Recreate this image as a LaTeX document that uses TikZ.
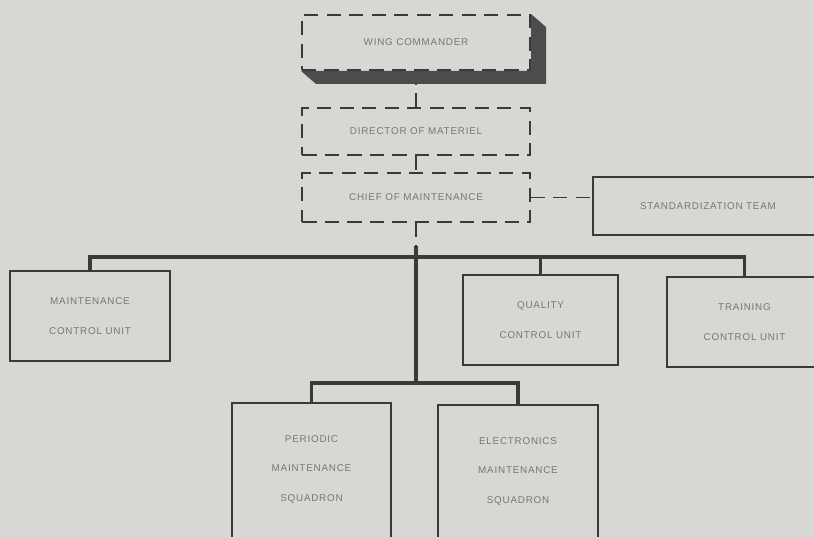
\documentclass[tikz,border=0pt]{standalone}
\usepackage{fontspec}
\setmainfont{Liberation Sans}
\newfontfamily\lettering[LetterSpace=8]{Liberation Sans}
\usetikzlibrary{positioning}
\definecolor{paper}{HTML}{D7D8D3}
\definecolor{ink}{HTML}{3A3A3A}
\definecolor{pencil}{HTML}{767676}
\definecolor{darkface}{HTML}{4C4C4C}
\tikzset{
  %define style for boxes
  unit/.style={
    rectangle,
    draw=ink, line width=1.4pt,
    fill=paper,
    text=pencil,
    font=\lettering\fontsize{7}{21}\selectfont,
    align=center,
    inner sep=0pt},
  staff/.style={
    unit,
    dash pattern=on 10pt off 6pt},
  %define style for lines
  link/.style={
    draw=ink,
    line width=2.4pt},
  stafflink/.style={
    draw=ink,
    line width=1.4pt,
    dash pattern=on 10pt off 6pt}
}

\begin{document}
\begin{tikzpicture}[x=0.025cm, y=-0.025cm]
\useasboundingbox (0,0) rectangle (814,537);
\fill[paper] (0,0) rectangle (814,537);

%nodes
\node[staff, minimum width=5.7cm, minimum height=1.375cm] (wing) at (416,42.5) {WING COMMANDER};
\node[staff, minimum width=5.675cm, minimum height=1.175cm] (director) at (416,131.5) {DIRECTOR OF MATERIEL};
\node[staff, minimum width=5.675cm, minimum height=1.225cm] (chief) at (416,197.5) {CHIEF OF MAINTENANCE};
\node[unit, minimum width=5.75cm, minimum height=1.45cm] (stand) at (708,206) {STANDARDIZATION TEAM};

\node[unit, minimum width=4cm, minimum height=2.25cm] (mcu) at (90,316) {MAINTENANCE\\CONTROL UNIT};
\node[unit, minimum width=3.875cm, minimum height=2.25cm] (qcu) at (540.5,320) {QUALITY\\CONTROL UNIT};
\node[unit, minimum width=3.875cm, minimum height=2.25cm] (tcu) at (744.5,322) {TRAINING\\CONTROL UNIT};

\node[unit, anchor=north, minimum width=3.975cm, minimum height=4.5cm] (pms) at (311.5,402) {PERIODIC\\MAINTENANCE\\SQUADRON\\[0.5cm]};
\node[unit, anchor=north, minimum width=4cm, minimum height=4.5cm] (ems) at (518,404) {ELECTRONICS\\MAINTENANCE\\SQUADRON\\[0.5cm]};

%bus points
\coordinate (bus) at (416,257);
\coordinate (split) at (416,246);
\coordinate (lowbus) at (416,383);

%lines
\draw[stafflink] (wing.south) -- (director.north);
\draw[stafflink] (director.south) -- (chief.north);
\draw[stafflink] (chief.east) -- (chief.east -| stand.west);
\draw[stafflink] (chief.south) -- (split);
\draw[link] (split) -- (lowbus);
\draw[link] (mcu.north) |- (bus) -| (tcu.north);
\draw[link] (qcu.north) |- (bus);
\draw[link] (pms.north) |- (lowbus) -| (ems.north);

%shadow of the top box
\fill[darkface] (wing.north east) -- ++(15,13) |- ([shift={(15,13)}]wing.south west)
  -- (wing.south west) -- (wing.south east) -- cycle;

\end{tikzpicture}
\end{document}
